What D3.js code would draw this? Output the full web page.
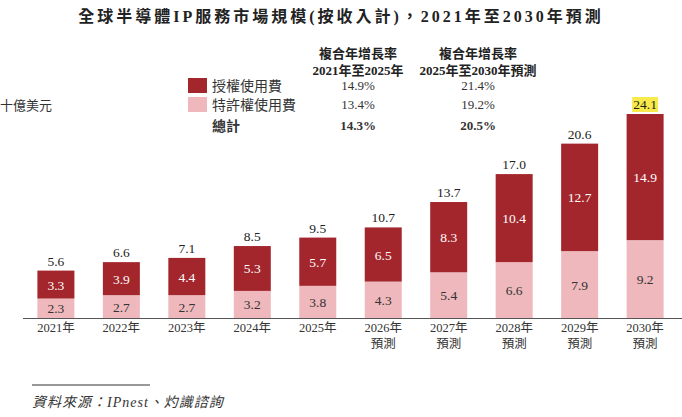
<!DOCTYPE html>
<html lang="zh-Hant">
<head>
<meta charset="UTF-8">
<title>全球半導體IP服務市場規模</title>
<style>
  body { margin: 0; background: #fff; }
  svg text { font-family: "Liberation Serif", "Noto Sans CJK TC", serif; fill: #222; }
</style>
</head>
<body>
<svg id="chart"></svg>
<script src="https://d3js.org/d3.v7.min.js"></script>
<script>
// data
const years = ["2021年", "2022年", "2023年", "2024年", "2025年", "2026年", "2027年", "2028年", "2029年", "2030年"];
const forecast = [false, false, false, false, false, true, true, true, true, true];
const licensing = [3.3, 3.9, 4.4, 5.3, 5.7, 6.5, 8.3, 10.4, 12.7, 14.9];
const royalty = [2.3, 2.7, 2.7, 3.2, 3.8, 4.3, 5.4, 6.6, 7.9, 9.2];
const totals = [5.6, 6.6, 7.1, 8.5, 9.5, 10.7, 13.7, 17.0, 20.6, 24.1];
const seriesNames = ["授權使用費", "特許權使用費", "總計"];
const cagrHeads = [["複合年增長率", "2021年至2025年"], ["複合年增長率", "2025年至2030年預測"]];
const cagr2125 = ["14.9%", "13.4%", "14.3%"];
const cagr2530 = ["21.4%", "19.2%", "20.5%"];

const W = 682, H = 417;
const darkRed = "#a3262c", pink = "#eeb8bc";

const svg = d3.select("#chart").attr("width", W).attr("height", H);

// title
svg.append("text")
  .attr("x", 341).attr("y", 22)
  .attr("text-anchor", "middle")
  .style("font-size", "16px").style("font-weight", "bold")
  .style("letter-spacing", "3px")
  .text("全球半導體IP服務市場規模(按收入計)，2021年至2030年預測");

// unit
svg.append("text").attr("x", 0).attr("y", 110)
  .style("font-size", "13px").style("fill", "#333")
  .text("十億美元");

// scales
const x = d3.scaleBand().domain(years).range([23, 678]).paddingInner(0.435).paddingOuter(0.22);
const y = d3.scaleLinear().domain([0, 24.1]).range([318, 114]);

// bars
const g = svg.append("g");
g.selectAll(".roy").data(years).enter().append("rect")
  .attr("x", d => x(d)).attr("width", x.bandwidth())
  .attr("y", (d, i) => y(royalty[i]))
  .attr("height", (d, i) => y(0) - y(royalty[i]))
  .attr("fill", pink);

g.selectAll(".lic").data(years).enter().append("rect")
  .attr("x", d => x(d)).attr("width", x.bandwidth())
  .attr("y", (d, i) => y(totals[i]))
  .attr("height", (d, i) => y(royalty[i]) - y(totals[i]))
  .attr("fill", darkRed);

// segment labels
const cx = d => x(d) + x.bandwidth() / 2;
g.selectAll(".roylab").data(years).enter().append("text")
  .attr("x", cx)
  .attr("y", (d, i) => (y(0) + y(royalty[i])) / 2 + 5)
  .attr("text-anchor", "middle").style("font-size", "13.5px").style("fill", "#333")
  .text((d, i) => royalty[i].toFixed(1));

g.selectAll(".liclab").data(years).enter().append("text")
  .attr("x", cx)
  .attr("y", (d, i) => (y(royalty[i]) + y(totals[i])) / 2 + 5)
  .attr("text-anchor", "middle").style("font-size", "13.5px").style("fill", "#fff")
  .text((d, i) => licensing[i].toFixed(1));

// totals, last one highlighted
const last = years.length - 1;
g.append("rect")
  .attr("x", cx(years[last]) - 13).attr("y", y(totals[last]) - 17)
  .attr("width", 26).attr("height", 15)
  .attr("fill", "#f7ea4a");
g.selectAll(".totlab").data(years).enter().append("text")
  .attr("x", cx)
  .attr("y", (d, i) => y(totals[i]) - 5)
  .attr("text-anchor", "middle").style("font-size", "13.5px").style("fill", "#222")
  .text((d, i) => totals[i].toFixed(1));

// x axis
const axis = svg.append("g").attr("transform", "translate(0,318)")
  .call(d3.axisBottom(x).tickSize(0).tickFormat(""));
axis.select(".domain").attr("stroke", "#555").attr("stroke-width", 1.2)
  .attr("d", "M23,0.5H682");

const xl = svg.append("g");
xl.selectAll(".yr").data(years).enter().append("text")
  .attr("x", cx).attr("y", 332)
  .attr("text-anchor", "middle").style("font-size", "12.5px").style("fill", "#333")
  .text(d => d);
xl.selectAll(".fc").data(years.filter((d, i) => forecast[i])).enter().append("text")
  .attr("x", cx).attr("y", 348)
  .attr("text-anchor", "middle").style("font-size", "12.5px").style("fill", "#333")
  .text("預測");

// legend + CAGR table
const leg = svg.append("g");
const rowY = [91, 110, 131];
[darkRed, pink].forEach((c, i) => {
  leg.append("rect").attr("x", 188).attr("y", rowY[i] - 13).attr("width", 19).attr("height", 15).attr("fill", c);
});
seriesNames.forEach((s, i) => {
  leg.append("text").attr("x", 212).attr("y", rowY[i])
    .style("font-size", "14px").style("font-weight", i === 2 ? "bold" : "normal")
    .style("fill", "#333").text(s);
});
const colX = [358, 478];
cagrHeads.forEach((h, j) => {
  h.forEach((t, k) => {
    leg.append("text").attr("x", colX[j]).attr("y", 58 + k * 17)
      .attr("text-anchor", "middle").style("font-size", "13px").style("font-weight", "bold")
      .text(t);
  });
});
[cagr2125, cagr2530].forEach((col, j) => {
  col.forEach((v, i) => {
    leg.append("text").attr("x", colX[j]).attr("y", rowY[i] - 1)
      .attr("text-anchor", "middle").style("font-size", "13px")
      .style("font-weight", i === 2 ? "bold" : "normal").style("fill", "#333")
      .text(v);
  });
});

// source
svg.append("line").attr("x1", 32).attr("x2", 150).attr("y1", 385).attr("y2", 385)
  .attr("stroke", "#333").attr("stroke-width", 1);
svg.append("text").attr("x", 32).attr("y", 407)
  .style("font-size", "14px").style("font-style", "italic").style("fill", "#333")
  .style("letter-spacing", "1px")
  .text("資料來源：IPnest、灼識諮詢");
</script>
</body>
</html>
